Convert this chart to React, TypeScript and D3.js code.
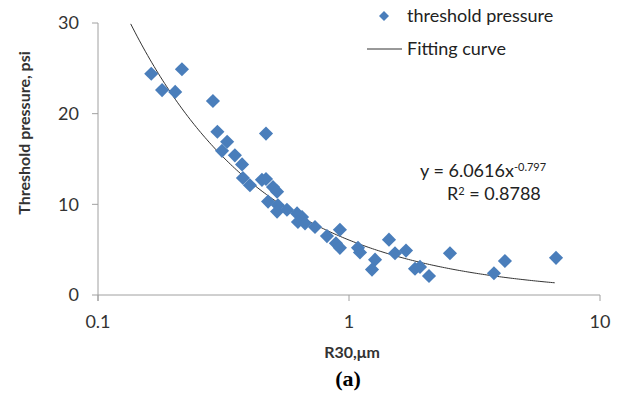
import React from "react";
import * as d3 from "d3";

// R30 (µm) and threshold pressure (psi)
const r30 = [
  0.163, 0.216, 0.18, 0.203, 0.287, 0.299, 0.467, 0.327, 0.312, 0.351, 0.375,
  0.378, 0.403, 0.45, 0.467, 0.498, 0.517, 0.476, 0.521, 0.517, 0.566, 0.621,
  0.65, 0.626, 0.668, 0.732, 0.817, 0.92, 0.887, 0.92, 1.086, 1.106, 1.27,
  1.235, 1.443, 1.525, 1.687, 1.832, 1.918, 2.083, 2.525, 3.78, 4.18, 6.68,
];
const pressure = [
  24.4, 24.9, 22.6, 22.4, 21.4, 18.0, 17.8, 16.9, 15.9, 15.4, 14.4, 12.9,
  12.1, 12.7, 12.8, 11.9, 11.4, 10.3, 9.9, 9.2, 9.4, 9.0, 8.6, 8.05, 7.9, 7.5,
  6.5, 7.2, 5.7, 5.2, 5.2, 4.7, 3.9, 2.8, 6.1, 4.6, 4.9, 2.9, 3.1, 2.1, 4.6,
  2.4, 3.75, 4.1,
];

// power fit y = a * x^b
const fitA = 6.0616;
const fitB = -0.797;
const fitRange = [0.135, 6.6];

const xTicks = [0.1, 1, 10];
const xTickLabels = ["0.1", "1", "10"];
const yTicks = [0, 10, 20, 30];

const width = 641;
const height = 402;
const blue = "#4a7ebb";
const axisGray = "#a0a0a0";
const font = "Lato, 'Open Sans', sans-serif";

export default function App() {
  const x = d3.scaleLog().domain([0.1, 10]).range([98, 600]);
  const y = d3.scaleLinear().domain([0, 30]).range([295, 23]);

  const pts = r30.map((r, i) => ({ r, p: pressure[i] }));

  const curveX = d3.range(0, 201).map((i) => {
    const t = i / 200;
    return Math.exp(Math.log(fitRange[0]) + t * (Math.log(fitRange[1]) - Math.log(fitRange[0])));
  });
  const line = d3
    .line<number>()
    .x((d) => x(d))
    .y((d) => y(fitA * Math.pow(d, fitB)));

  const diamond = d3.symbol().type(d3.symbolSquare).size(100)();

  return (
    <svg
      width={width}
      height={height}
      style={{ position: "absolute", left: 0, top: 0, background: "#fff" }}
      fontFamily={font}
    >
      {/* axes */}
      <line x1={x(0.1)} x2={x(0.1)} y1={y(30)} y2={y(0) + 6} stroke={axisGray} />
      <line x1={x(0.1)} x2={x(10)} y1={y(0)} y2={y(0)} stroke={axisGray} />
      {yTicks.map((t) => (
        <g key={"y" + t}>
          <line x1={x(0.1) - 6} x2={x(0.1)} y1={y(t)} y2={y(t)} stroke={axisGray} />
          <text x={79} y={y(t)} dy="0.35em" textAnchor="end" fontSize={18} fill="#333">
            {t}
          </text>
        </g>
      ))}
      {xTicks.map((t, i) => (
        <g key={"x" + t}>
          <line x1={x(t)} x2={x(t)} y1={y(0)} y2={y(0) + 6} stroke={axisGray} />
          <text x={x(t)} y={322} dy="0.35em" textAnchor="middle" fontSize={18} fill="#333">
            {xTickLabels[i]}
          </text>
        </g>
      ))}

      {/* axis titles */}
      <text x={352} y={352} dy="0.35em" textAnchor="middle" fontSize={16} fontWeight="bold" fill="#333">
        R30,μm
      </text>
      <text
        transform="translate(24,133) rotate(-90)"
        dy="0.35em"
        textAnchor="middle"
        fontSize={16}
        fontWeight="bold"
        fill="#333"
      >
        Threshold pressure, psi
      </text>
      <text
        x={348}
        y={378}
        dy="0.35em"
        textAnchor="middle"
        fontSize={22}
        fontWeight="bold"
        fontFamily="'Liberation Serif', 'Times New Roman', serif"
        fill="#000"
      >
        (a)
      </text>

      {/* fitting curve */}
      <path d={line(curveX) ?? ""} fill="none" stroke="#333" strokeWidth={1} />

      {/* points */}
      {pts.map((d, i) => (
        <path
          key={i}
          d={diamond ?? ""}
          transform={`translate(${x(d.r)},${y(d.p)}) rotate(45)`}
          fill={blue}
        />
      ))}

      {/* equation */}
      <text x={420} y={171} dy="0.35em" fontSize={18} fill="#222">
        y = 6.0616x
        <tspan dy="-6" fontSize={11}>-0.797</tspan>
      </text>
      <text x={447} y={194} dy="0.35em" fontSize={18} fill="#222">
        R<tspan dy="-5" fontSize={11}>2</tspan>
        <tspan dy="5"> = 0.8788</tspan>
      </text>

      {/* legend */}
      <path d={d3.symbol().type(d3.symbolSquare).size(50)() ?? ""} transform="translate(384,16) rotate(45)" fill={blue} />
      <text x={407} y={16} dy="0.35em" fontSize={18} fill="#222">
        threshold pressure
      </text>
      <line x1={367} x2={402} y1={49} y2={49} stroke="#333" />
      <text x={407} y={49} dy="0.35em" fontSize={18} fill="#222">
        Fitting curve
      </text>
    </svg>
  );
}
